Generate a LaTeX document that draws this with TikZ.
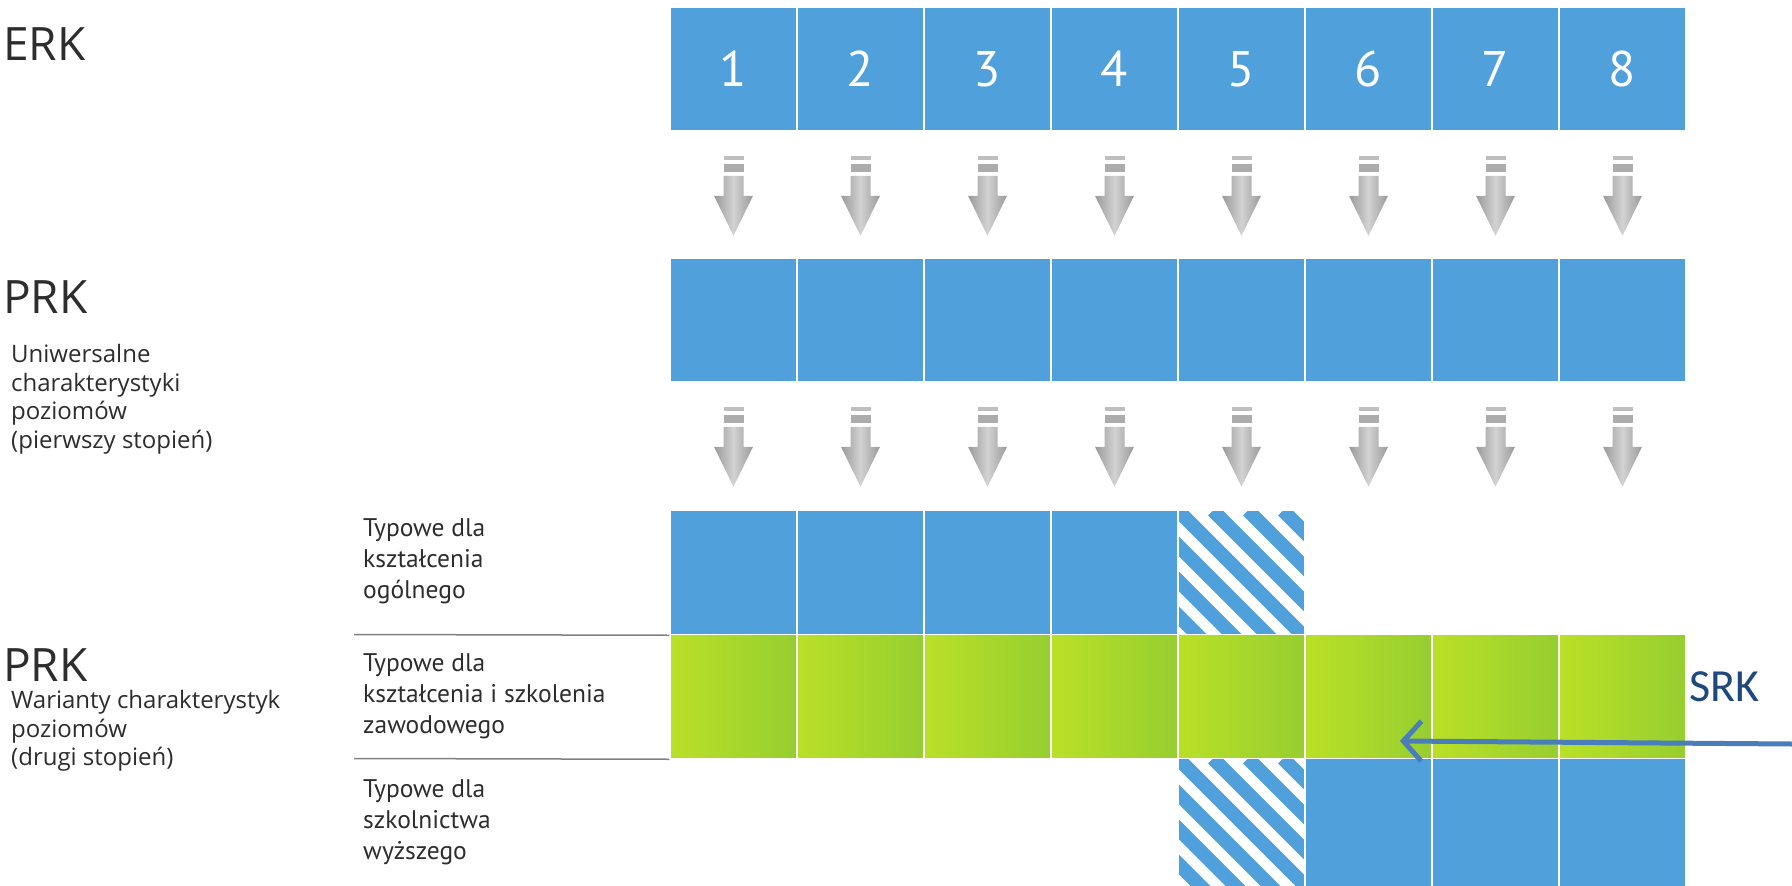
\documentclass[tikz,border=0pt]{standalone}
\usepackage{fontspec}
\setmainfont{Carlito}
\newfontfamily\labelfont{Open Sans}
\newfontfamily\typfont{PT Sans}
\usetikzlibrary{arrows.meta}
\definecolor{cellblue}{RGB}{80,160,220}
\definecolor{greenL}{RGB}{186,224,40}
\definecolor{greenR}{RGB}{150,206,48}
\definecolor{srkarrow}{RGB}{74,126,187}
\definecolor{srktext}{RGB}{31,73,125}
\definecolor{labeltext}{RGB}{45,45,45}
\definecolor{sepgray}{RGB}{128,128,128}
\tikzset{
  cell/.style={minimum width=127pt, minimum height=124pt, inner sep=0pt, draw=white, line width=1.5pt},
  tallcell/.style={minimum height=128pt},
  bluecell/.style={cell, fill=cellblue},
  greencell/.style={cell, left color=greenL, right color=greenR},
  hatchcell/.style={cell, fill=white, path picture={
    \foreach \k in {-6,...,4}{
      \draw[cellblue, line width=14pt] ([xshift=\k*35pt]path picture bounding box.north west) -- ++(280,280);
    }}},
  numtext/.style={text=white, font=\typfont\fontsize{50}{60}\selectfont},
  biglabel/.style={text=labeltext, font=\labelfont\fontsize{46}{52}\selectfont, anchor=base west, inner sep=0pt},
  smalllabel/.style={text=labeltext, font=\labelfont\fontsize{24}{28.5}\selectfont, anchor=base west, align=left, inner sep=0pt},
  typlabel/.style={text=labeltext, font=\typfont\fontsize{25.5}{31}\selectfont, anchor=base west, align=left, inner sep=0pt},
  srklabel/.style={text=srktext, font=\fontsize{46}{56}\selectfont, anchor=base west, inner sep=0pt},
  sepline/.style={draw=sepgray, line width=1.5pt},
  srkarr/.style={draw=srkarrow, line width=5pt, -{Straight Barb[length=18pt, width=40pt, line width=5pt]}},
  garrow/.pic={
    \fill[gray!50] (-10,0) rectangle (10,4);
    \fill[gray!65] (-10,8) rectangle (10,16);
    \shade[left color=gray!80, right color=gray!80, middle color=gray!35]
      (-10,20) -- (10,20) -- (10,40) -- (19.5,40) -- (0,80) -- (-19.5,40) -- (-10,40) -- cycle;
  }
}
\begin{document}
\begin{tikzpicture}[x=1pt,y=-1pt]
\useasboundingbox (0,0) rectangle (1792,886);
% row 1 (ERK)
\foreach \i in {1,...,8}{
  \node[bluecell, numtext] (e\i) at ({670+127*(\i-0.5)},69) {\i};
}
% row 2 (PRK)
\foreach \i in {1,...,8}{
  \node[bluecell] (p\i) at ({670+127*(\i-0.5)},320) {};
}
% arrows
\foreach \i in {1,...,8}{
  \pic at ([yshift=-24pt]e\i.south) {garrow};
  \pic at ([yshift=-24pt]p\i.south) {garrow};
}
% row 3 (general)
\foreach \i in {1,...,4}{
  \node[bluecell] (g\i) at ({670+127*(\i-0.5)},572.5) {};
}
\node[hatchcell] (g5) at ({670+127*4.5},572.5) {};
% row 4 (vocational)
\foreach \i in {1,...,8}{
  \node[greencell] (v\i) at ({670+127*(\i-0.5)},696.5) {};
}
% row 5 (higher)
\node[hatchcell, tallcell] (h5) at ({670+127*4.5},822.5) {};
\foreach \i in {6,...,8}{
  \node[bluecell, tallcell] (h\i) at ({670+127*(\i-0.5)},822.5) {};
}
% separators
\coordinate (s1) at (354,634.5);
\coordinate (s2) at (354,758.5);
\draw[sepline] (s1) -- (g1.south west);
\draw[sepline] (s2) -- (v1.south west);
% labels
\node[biglabel] (erk) at (3,60) {ERK};
\node[biglabel] (prk1) at (3,313) {PRK};
\node[smalllabel] (uni) at (11,448) {Uniwersalne\\charakterystyki\\poziomów\\(pierwszy stopień)};
\node[biglabel] (prk2) at (3,681) {PRK};
\node[smalllabel] (war) at (11,765.5) {Warianty charakterystyk\\poziomów\\(drugi stopień)};
\node[typlabel] (t1) at (363,598) {Typowe dla\\kształcenia\\ogólnego};
\node[typlabel] (t2) at (363,733) {Typowe dla\\kształcenia i szkolenia\\zawodowego};
\node[typlabel] (t3) at (363,859) {Typowe dla\\szkolnictwa\\wyższego};
% SRK
\node[srklabel] (srk) at (1689,701) {SRK};
\coordinate (srkstart) at (1792,744);
\coordinate (srktip) at (1400,741);
\draw[srkarr] (srkstart) -- (srktip);
\end{tikzpicture}
\end{document}
